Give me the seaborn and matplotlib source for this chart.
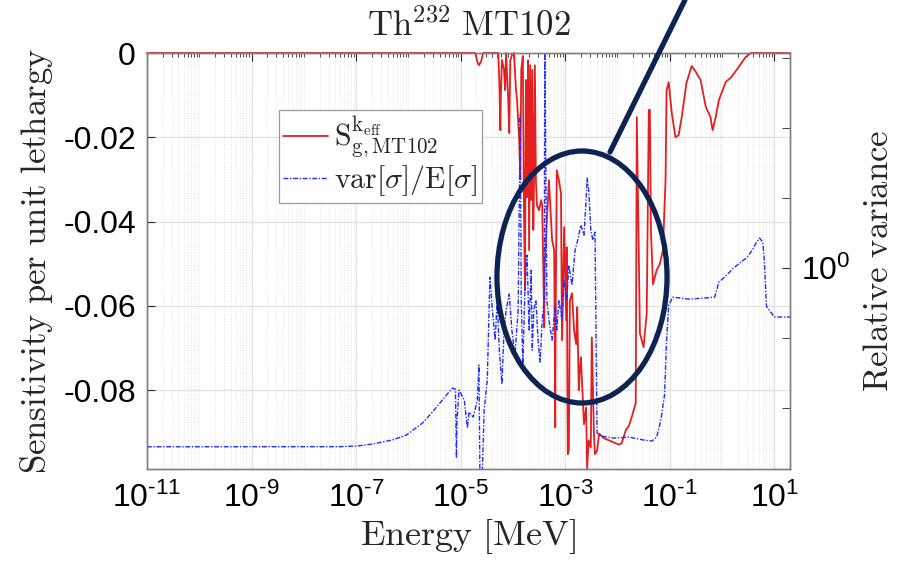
import numpy as np
import pandas as pd
import matplotlib
matplotlib.use("Agg")
import matplotlib.pyplot as plt
from matplotlib.patches import Ellipse
from matplotlib.lines import Line2D
from matplotlib.font_manager import FontProperties
from matplotlib.ticker import FixedLocator, FixedFormatter, NullFormatter, LogLocator, FuncFormatter
import seaborn as sns

# ---- data ----
# sensitivity per unit lethargy, energy given as log10(E / MeV)
sens_log_e = [-11.00, -4.72, -4.68, -4.65, -4.61, -4.57, -4.28, -4.26, -4.24, -4.23,
              -4.21, -4.17, -4.15, -4.13, -4.09, -4.07, -4.05, -4.02, -3.98, -3.94,
              -3.92, -3.88, -3.86, -3.84, -3.81, -3.79, -3.77, -3.75, -3.73, -3.71,
              -3.69, -3.67, -3.65, -3.63, -3.61, -3.60, -3.58, -3.56, -3.54, -3.50,
              -3.46, -3.44, -3.40, -3.39, -3.35, -3.31, -3.25, -3.21, -3.19, -3.18,
              -3.16, -3.12, -3.08, -3.06, -3.02, -2.98, -2.97, -2.95, -2.93, -2.91,
              -2.87, -2.83, -2.79, -2.77, -2.74, -2.72, -2.70, -2.64, -2.60, -2.58,
              -2.55, -2.51, -2.49, -2.45, -2.43, -2.39, -2.35, -2.26, -2.16, -2.07,
              -1.97, -1.92, -1.84, -1.78, -1.73, -1.65, -1.63, -1.59, -1.57, -1.50,
              -1.44, -1.40, -1.38, -1.36, -1.32, -1.25, -1.19, -1.13, -1.10, -1.08,
              -1.06, -1.02, -0.96, -0.89, -0.83, -0.77, -0.68, -0.58, -0.50, -0.41,
              -0.31, -0.22, -0.18, -0.12, -0.06, 0.07, 0.18, 0.32, 0.45, 0.55, 1.30]
sens_val = [0.0, 0.0, -0.0021, -0.0029, -0.0021, 0.0, 0.0, -0.0064, -0.0183, -0.0100,
            -0.0017, -0.0040, -0.0088, 0.0, -0.0112, -0.0190, -0.0017, -0.0005, 0.0, -0.0088,
            -0.0112, -0.0207, -0.0295, -0.0040, -0.0007, -0.0349, -0.0563, -0.0064, -0.0342, -0.0017,
            -0.0468, -0.0029, -0.0349, -0.0040, -0.0420, -0.0349, -0.0029, -0.0302, -0.0361, -0.0373,
            -0.0349, -0.0361, -0.0651, -0.0501, -0.0397, -0.0302, -0.0444, -0.0468, -0.0888, -0.0587,
            -0.0278, -0.0302, -0.0333, -0.0682, -0.0413, -0.0634, -0.0461, -0.0952, -0.0943, -0.0587,
            -0.0570, -0.0658, -0.0691, -0.0603, -0.0800, -0.0755, -0.0722, -0.0881, -0.0841, -0.0987,
            -0.0919, -0.0936, -0.0675, -0.0903, -0.0952, -0.0943, -0.0903, -0.0914, -0.0919, -0.0924,
            -0.0929, -0.0926, -0.0895, -0.0884, -0.0865, -0.0831, -0.0152, -0.0492, -0.0665, -0.0698,
            -0.0618, -0.0135, -0.0135, -0.0420, -0.0549, -0.0515, -0.0501, -0.0468, -0.0366, -0.0302,
            -0.0088, -0.0069, -0.0143, -0.0200, -0.0195, -0.0152, -0.0071, -0.0031, -0.0045, -0.0064,
            -0.0128, -0.0152, -0.0183, -0.0152, -0.0112, -0.0069, -0.0057, -0.0033, -0.0010, 0.0, 0.0]

# relative variance var[sigma]/E[sigma]
var_log_e = [-11.00, -7.32, -6.99, -6.69, -6.31, -6.04, -5.73, -5.54, -5.35, -5.16,
             -5.10, -5.08, -5.07, -5.03, -4.93, -4.87, -4.84, -4.76, -4.68, -4.65,
             -4.63, -4.59, -4.55, -4.49, -4.44, -4.40, -4.34, -4.30, -4.26, -4.21,
             -4.17, -4.13, -4.07, -4.02, -3.96, -3.90, -3.86, -3.84, -3.81, -3.77,
             -3.73, -3.69, -3.65, -3.63, -3.60, -3.56, -3.52, -3.48, -3.44, -3.40,
             -3.39, -3.35, -3.31, -3.25, -3.19, -3.16, -3.12, -3.06, -3.02, -2.97,
             -2.93, -2.87, -2.81, -2.76, -2.70, -2.64, -2.60, -2.58, -2.55, -2.51,
             -2.47, -2.43, -2.39, -2.32, -2.07, -1.78, -1.50, -1.34, -1.25, -1.17,
             -1.10, -1.06, -1.02, -0.94, -0.64, -0.35, -0.14, -0.06, 0.09, 0.22,
             0.36, 0.47, 0.58, 0.66, 0.72, 0.78, 0.81, 0.85, 0.93, 1.00, 1.30]
var_val = [0.00277, 0.00278, 0.00284, 0.00303, 0.00346, 0.00407, 0.00604, 0.00868, 0.0129, 0.0191,
           0.0185, 0.00191, 0.00667, 0.0179, 0.0129, 0.00513, 0.00868, 0.00736, 0.0129, 0.0407,
           0.0009, 0.0009, 0.00927, 0.0249, 0.736, 0.293, 0.0927, 0.346, 0.0667, 0.0218,
           0.129, 0.249, 0.421, 0.129, 0.0566, 0.249, 152.0, 0.346, 0.0407, 0.480,
           1.52, 0.129, 0.927, 0.0667, 0.249, 0.346, 0.0927, 0.045, 0.179, 0.346,
           2000.0, 0.346, 0.179, 0.0927, 0.293, 0.129, 0.346, 0.179, 0.667, 0.346,
           1.09, 0.566, 1.79, 2.49, 4.07, 2.93, 9.27, 19.1, 12.9, 3.46,
           2.49, 3.24, 0.00435, 0.00394, 0.00369, 0.00381, 0.00346, 0.00334, 0.00381, 0.00667,
           0.0152, 0.0927, 0.293, 0.381, 0.357, 0.369, 0.381, 0.625, 0.787, 0.99,
           1.21, 1.38, 1.79, 2.33, 2.66, 2.33, 1.29, 0.284, 0.233, 0.198, 0.198]

sens_ticks = [-0.08, -0.06, -0.04, -0.02, 0.0]
sens_ticklabels = ['-0.08', '-0.06', '-0.04', '-0.02', '0']


def pow10(v, pos):
  # MATLAB style exponent with a plain hyphen
  e = int(round(np.log10(v)))
  if e < 0:
    return r'$10^{\text{-}%d}$' % (-e)
  return r'$10^{%d}$' % e


def plotGraph():
  sns.set_style("white")
  plt.rcParams['font.family'] = ['Liberation Sans', 'DejaVu Sans']
  plt.rcParams['mathtext.fontset'] = 'custom'
  plt.rcParams['mathtext.rm'] = 'Liberation Sans'
  plt.rcParams['mathtext.it'] = 'Liberation Sans:italic'
  plt.rcParams['mathtext.bf'] = 'Liberation Sans:bold'
  plt.rcParams['axes.unicode_minus'] = False

  sens = pd.DataFrame({'E': 10.0 ** np.array(sens_log_e), 'S': sens_val})
  var = pd.DataFrame({'E': 10.0 ** np.array(var_log_e), 'V': var_val})

  fig = plt.figure(figsize=(9.04, 5.73), dpi=100)
  ax = fig.add_axes([0.1626, 0.1815, 0.7113, 0.726])
  ax.set_xscale('log')
  ax2 = ax.twinx()
  ax2.set_yscale('log')

  red = '#e41f1f'
  blue = '#1f2bff'
  dashdot = (0, (3.5, 1.2, 1.0, 1.2))
  sns.lineplot(data=sens, x='E', y='S', ax=ax, color=red, lw=1.3,
               estimator=None, sort=False, label=r'$\mathrm{S^{k_{eff}}_{g,MT102}}$')
  sns.lineplot(data=var, x='E', y='V', ax=ax2, color=blue, lw=1.0,
               estimator=None, sort=False, label=r'$\mathrm{var}[\sigma]/\mathrm{E}[\sigma]$')
  ax2.lines[0].set_linestyle(dashdot)
  ax.lines[0].set_clip_on(False)

  ax.set_xlim(1e-11, 20)
  ax.set_ylim(-0.0987, 0)
  ax2.set_ylim(10 ** -2.875, 10 ** 3.07)

  # x ticks: labelled every second decade, minor ticks on every decade
  ax.xaxis.set_major_locator(FixedLocator(10.0 ** np.arange(-11, 2, 2)))
  ax.xaxis.set_major_formatter(FuncFormatter(pow10))
  ax.xaxis.set_minor_locator(LogLocator(base=10, subs=np.arange(1, 10), numticks=200))
  ax.xaxis.set_minor_formatter(NullFormatter())
  ax.yaxis.set_major_locator(FixedLocator(sens_ticks))
  ax.yaxis.set_major_formatter(FixedFormatter(sens_ticklabels))
  ax2.yaxis.set_major_locator(FixedLocator([1.0]))
  ax2.yaxis.set_major_formatter(FuncFormatter(pow10))
  ax2.yaxis.set_minor_locator(FixedLocator([1e-2, 1e-1, 1e1, 1e2, 1e3]))
  ax2.yaxis.set_minor_formatter(NullFormatter())

  ax.tick_params(axis='both', which='both', direction='in', colors='#262626',
                 labelsize=23, top=True, labelcolor='black')
  ax.tick_params(axis='y', which='major', length=6, pad=8, right=False)
  ax.tick_params(axis='x', which='major', length=6, pad=10)
  ax.tick_params(axis='x', which='minor', length=3)
  ax2.tick_params(axis='y', which='both', direction='in', length=6, pad=8,
                  labelsize=23, colors='#262626', labelcolor='black')

  ax.grid(True, which='major', axis='both', color='#e0e0e0', lw=0.9, ls='-')
  ax.grid(True, which='minor', axis='x', color='#e2e2e2', lw=0.7, ls=':')
  ax.set_axisbelow(True)

  for a in (ax, ax2):
    for s in a.spines.values():
      s.set_color('#808080')
      s.set_linewidth(1.0)

  ax.set_title(r'$\mathrm{Th}^{232}\ \mathrm{MT102}$', fontsize=25, pad=12, math_fontfamily='cm')
  ax.set_xlabel(r'$\mathrm{Energy\ [MeV]}$', fontsize=26, labelpad=2, math_fontfamily='cm')
  ax.set_ylabel(r'$\mathrm{Sensitivity\ per\ unit\ lethargy}$', fontsize=25, labelpad=6,
                math_fontfamily='cm')
  ax2.set_ylabel(r'$\mathrm{Relative\ variance}$', fontsize=25, labelpad=8, math_fontfamily='cm')

  handles = ax.get_legend().legend_handles + ax2.get_legend().legend_handles
  labels = [t.get_text() for t in ax.get_legend().get_texts()] + \
           [t.get_text() for t in ax2.get_legend().get_texts()]
  ax.get_legend().remove()
  ax2.get_legend().remove()
  handles[1].set_linestyle(dashdot)
  leg = ax2.legend(handles, labels, loc='upper left', bbox_to_anchor=(0.205, 0.862),
                   borderaxespad=0, fancybox=False, framealpha=1, edgecolor='#999999',
                   handlelength=1.5, handletextpad=0.2, borderpad=0.15, labelspacing=0.1,
                   prop=FontProperties(size=21.5, math_fontfamily='cm'))
  leg.get_frame().set_linewidth(0.9)

  # hand-drawn highlight: ellipse round the resonance region and a pointer line
  navy = '#0d2352'
  fig.patches.append(Ellipse((0.6438, 0.5166), 0.1881, 0.4398, transform=fig.transFigure,
                             fill=False, ec=navy, lw=3.8, zorder=10))
  fig.lines.append(Line2D([0.6748, 0.7577], [0.7347, 1.0], transform=fig.transFigure,
                          color=navy, lw=3.8, zorder=10))

  fig.savefig('out.png', dpi=100)


if __name__ == "__main__":
  plotGraph()
